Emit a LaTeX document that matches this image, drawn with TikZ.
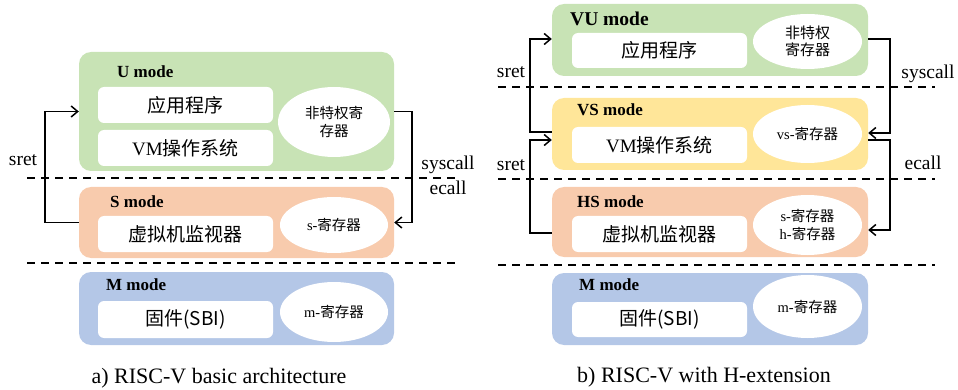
\documentclass[tikz,border=0pt]{standalone}
\usepackage{fontspec}
\setmainfont{Liberation Serif}
\newfontfamily\cjk{Noto Sans CJK SC}
\usetikzlibrary{arrows.meta,shapes.geometric}
\definecolor{cgreen}{HTML}{C8E3B5}
\definecolor{cpeach}{HTML}{F8CBAD}
\definecolor{cyellow}{HTML}{FFE699}
\definecolor{cblue}{HTML}{B4C7E7}
\begin{document}
\begin{tikzpicture}[x=1pt,y=-1pt,
  modebox/.style={rounded corners=12pt, minimum width=315pt, inner sep=0pt, draw=none},
  wbox/.style={fill=white, rounded corners=6pt, minimum width=175pt, minimum height=36pt, inner sep=0pt, font=\fontsize{19}{22}\selectfont},
  reg/.style={ellipse, fill=white, inner sep=0pt, align=center, font=\fontsize{14.5}{17.5}\selectfont},
  mlabel/.style={anchor=west, inner sep=0pt, font=\fontsize{17}{20}\selectfont\bfseries},
  arr/.style={line width=1.5pt, -{Straight Barb[length=6.5pt,width=11pt]}},
  sepline/.style={line width=1.4pt, dash pattern=on 8pt off 6pt},
  lbl/.style={inner sep=0pt, font=\fontsize{19.5}{22}\selectfont},
  captxt/.style={inner sep=0pt, font=\fontsize{22}{26}\selectfont}]
\useasboundingbox (0,0) rectangle (958,390);

% ---------- left panel ----------
\node[modebox, fill=cgreen, minimum height=119pt] (U) at (236.5,111.5) {};
\node[modebox, fill=cpeach, minimum height=71pt] (S) at (236.5,222.5) {};
\node[modebox, fill=cblue, minimum height=73pt] (M) at (236.5,308.5) {};

\node[mlabel] (Ul) at (117,72) {U mode};
\node[mlabel] (Sl) at (110,202) {S mode};
\node[mlabel] (Ml) at (106,285) {M mode};

\node[wbox] (Ua) at (185.5,105) {\cjk 应用程序};
\node[wbox] (Ub) at (185.5,148) {VM{\cjk 操作系统}};
\node[wbox] (Sa) at (185.5,234) {\cjk 虚拟机监视器};
\node[wbox, minimum height=37pt] (Ma) at (185.5,319.5) {\cjk 固件(SBI)};

\node[reg, minimum width=112pt, minimum height=70pt] (Ur) at (334,122) {\cjk 非特权寄\\\cjk 存器};
\node[reg, minimum width=108pt, minimum height=56pt] (Sr) at (334,225) {s-{\cjk 寄存器}};
\node[reg, minimum width=108pt, minimum height=60pt] (Mr) at (334,312) {m-{\cjk 寄存器}};

\coordinate (d1a) at (27,178); \coordinate (d1b) at (460,178);
\coordinate (d2a) at (27,263); \coordinate (d2b) at (460,263);
\draw[sepline] (d1a) -- (d1b);
\draw[sepline] (d2a) -- (d2b);

\draw[arr] (S.west) -- ++(-34,0) |- (U.west);
\draw[arr] (U.east) -- ++(18,0) |- (S.east);

\node[lbl] (sretA) at (23,160) {sret};
\node[lbl] (sysA) at (448,165) {syscall};
\node[lbl] (ecA) at (448,188) {ecall};

\node[captxt] (capA) at (219,378) {a) RISC-V basic architecture};

% ---------- right panel ----------
\node[modebox, fill=cgreen, minimum width=316pt, minimum height=72pt] (VU) at (710,40) {};
\node[modebox, fill=cyellow, minimum width=316pt, minimum height=72pt] (VS) at (710,134) {};
\node[modebox, fill=cpeach, minimum width=316pt, minimum height=70pt] (HS) at (710,222) {};
\node[modebox, fill=cblue, minimum width=316pt, minimum height=72pt] (M2) at (710,309) {};

\node[mlabel, font=\fontsize{19.5}{22}\selectfont\bfseries] (VUl) at (570,19) {VU mode};
\node[mlabel] (VSl) at (577,110) {VS mode};
\node[mlabel] (HSl) at (577,202) {HS mode};
\node[mlabel] (M2l) at (579,285) {M mode};

\node[wbox, minimum height=35pt] (VUa) at (659.5,50.5) {\cjk 应用程序};
\node[wbox] (VSa) at (659.5,145) {VM{\cjk 操作系统}};
\node[wbox] (HSa) at (659.5,234) {\cjk 虚拟机监视器};
\node[wbox, minimum height=35pt] (M2a) at (659.5,319.5) {\cjk 固件(SBI)};

\node[reg, minimum width=109pt, minimum height=55pt, font=\fontsize{15}{17.5}\selectfont] (VUr) at (807.5,41.5) {\cjk 非特权\\\cjk 寄存器};
\node[reg, minimum width=109pt, minimum height=58pt] (VSr) at (807.5,134) {vs-{\cjk 寄存器}};
\node[reg, minimum width=109pt, minimum height=60pt] (HSr) at (807.5,225) {s-{\cjk 寄存器}\\h-{\cjk 寄存器}};
\node[reg, minimum width=109pt, minimum height=63pt] (M2r) at (807.5,306.5) {m-{\cjk 寄存器}};

\coordinate (e1a) at (498,87); \coordinate (e1b) at (935,87);
\coordinate (e2a) at (498,179); \coordinate (e2b) at (935,179);
\coordinate (e3a) at (498,265); \coordinate (e3b) at (935,265);
\draw[sepline] (e1a) -- (e1b);
\draw[sepline] (e2a) -- (e2b);
\draw[sepline] (e3a) -- (e3b);

\draw[arr] ([yshift=2pt]VS.west) -- ++(-22,0) |- ([yshift=1pt]VU.west);
\draw[arr] ([yshift=-11pt]HS.west) -- ++(-22,0) |- ([yshift=-6pt]VS.west);
\draw[arr] ([yshift=1pt]VU.east) -- ++(22,0) |- ([yshift=1pt]VS.east);
\draw[arr] ([yshift=-6pt]VS.east) -- ++(22,0) |- ([yshift=-8pt]HS.east);

\node[lbl] (sretB1) at (511,72) {sret};
\node[lbl] (sretB2) at (511,165) {sret};
\node[lbl] (sysB) at (928,74) {syscall};
\node[lbl] (ecB) at (923,163) {ecall};

\node[captxt] (capB) at (704,377) {b) RISC-V with H-extension};
\end{tikzpicture}
\end{document}
